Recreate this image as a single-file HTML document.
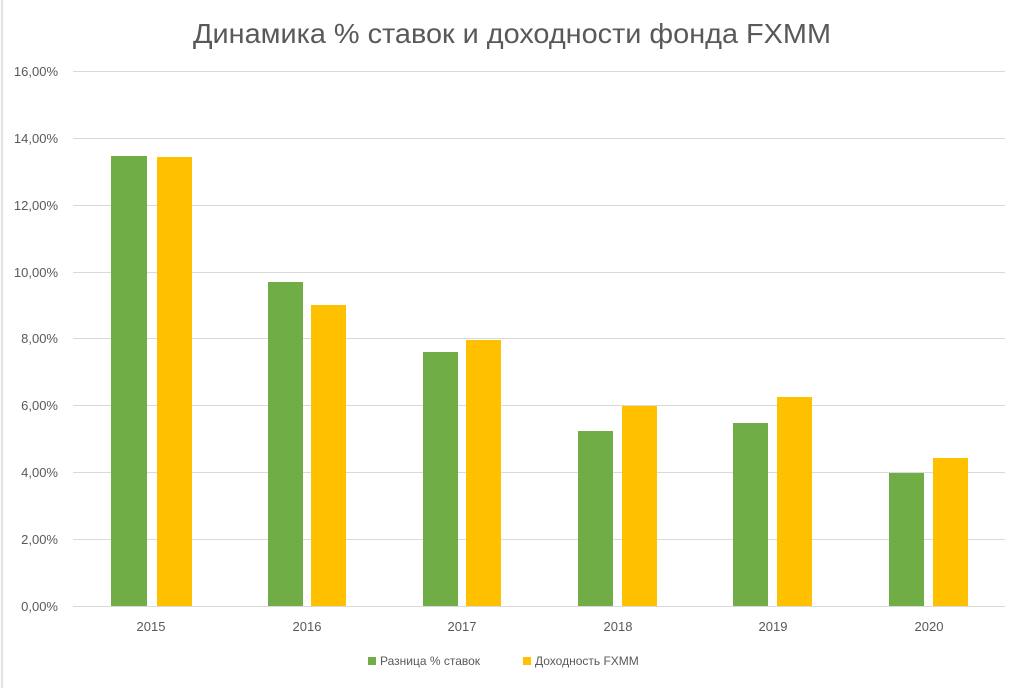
<!DOCTYPE html>
<html><head><meta charset="utf-8"><style>
body{margin:0;background:#fff;}
</style></head><body>
<svg width="1024" height="688" xmlns="http://www.w3.org/2000/svg" font-family="Liberation Sans, sans-serif">
<rect width="1024" height="688" fill="#fff"/>
<line x1="2" y1="0" x2="2" y2="688" stroke="#d9d9d9" stroke-width="1.5"/>
<text x="512" y="43" text-anchor="middle" font-size="28" fill="#595959" textLength="638" lengthAdjust="spacingAndGlyphs">Динамика % ставок и доходности фонда FXMM</text>
<g stroke="#d9d9d9" stroke-width="1">
<line x1="73" x2="1005" y1="71.5" y2="71.5"/><line x1="73" x2="1005" y1="138.5" y2="138.5"/>
<line x1="73" x2="1005" y1="205.5" y2="205.5"/><line x1="73" x2="1005" y1="272.5" y2="272.5"/>
<line x1="73" x2="1005" y1="338.5" y2="338.5"/><line x1="73" x2="1005" y1="405.5" y2="405.5"/>
<line x1="73" x2="1005" y1="472.5" y2="472.5"/><line x1="73" x2="1005" y1="539.5" y2="539.5"/>
<line x1="73" x2="1005" y1="606.5" y2="606.5"/>
</g>
<g font-size="13" fill="#595959" text-anchor="end">
<text x="58" y="76">16,00%</text><text x="58" y="143">14,00%</text><text x="58" y="210">12,00%</text>
<text x="58" y="277">10,00%</text><text x="58" y="343">8,00%</text><text x="58" y="410">6,00%</text>
<text x="58" y="477">4,00%</text><text x="58" y="544">2,00%</text><text x="58" y="611">0,00%</text>
</g>
<g fill="#70ad47">
<rect x="111" y="156" width="36" height="450"/><rect x="268" y="282" width="35" height="324"/>
<rect x="423" y="352" width="35" height="254"/><rect x="578" y="431" width="35" height="175"/>
<rect x="733" y="423" width="35" height="183"/><rect x="889" y="473" width="35" height="133"/>
</g>
<g fill="#ffc000">
<rect x="157" y="157" width="35" height="449"/><rect x="311" y="305" width="35" height="301"/>
<rect x="466" y="340" width="35" height="266"/><rect x="622" y="406" width="35" height="200"/>
<rect x="777" y="397" width="35" height="209"/><rect x="933" y="458" width="35" height="148"/>
</g>
<g font-size="13" fill="#595959" text-anchor="middle">
<text x="151" y="631">2015</text><text x="307" y="631">2016</text><text x="462" y="631">2017</text>
<text x="618" y="631">2018</text><text x="773" y="631">2019</text><text x="929" y="631">2020</text>
</g>
<rect x="368" y="657" width="8" height="8" fill="#70ad47"/>
<text x="380" y="665" font-size="12" fill="#595959">Разница % ставок</text>
<rect x="523" y="657" width="8" height="8" fill="#ffc000"/>
<text x="535" y="665" font-size="12" fill="#595959">Доходность FXMM</text>
</svg>
</body></html>
